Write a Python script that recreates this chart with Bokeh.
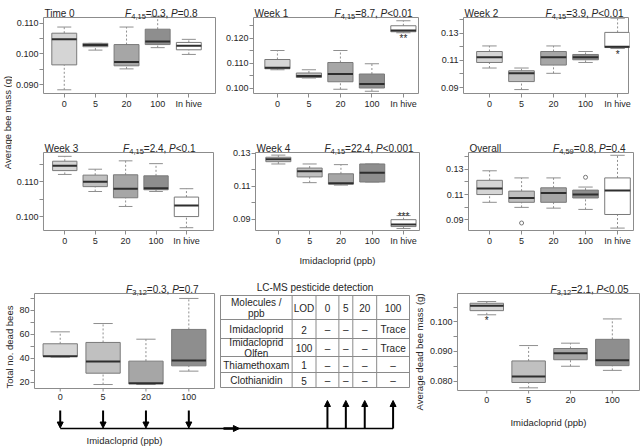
import math
from bokeh.plotting import figure
from bokeh.layouts import row, column
from bokeh.models import (ColumnDataSource, Range1d, FixedTicker, PrintfTickFormatter,
                          Label, Arrow, NormalHead, Title)
from bokeh.transform import dodge
from bokeh.core.properties import value
from bokeh.embed import file_html
from bokeh.resources import INLINE

# ---------------- data ----------------
mass_groups = ["0", "5", "20", "100", "In hive"]
dead_groups = ["0", "5", "20", "100"]

# box statistics per group: (lower whisker, Q1, median, Q3, upper whisker)
time0 = [(0.0883, 0.0964, 0.1047, 0.1067, 0.1087),
         (0.1012, 0.1023, 0.1029, 0.1034, 0.1034),
         (0.0951, 0.0961, 0.0973, 0.1030, 0.1087),
         (0.1020, 0.1030, 0.1040, 0.1080, 0.1122),
         (0.0998, 0.1013, 0.1026, 0.1037, 0.1047)]
week1 = [(0.1073, 0.1077, 0.1081, 0.1114, 0.1150),
         (0.1040, 0.1042, 0.1048, 0.1060, 0.1073),
         (0.0995, 0.1025, 0.1056, 0.1102, 0.1150),
         (0.0987, 0.1000, 0.1016, 0.1056, 0.1097),
         (0.1221, 0.1225, 0.1230, 0.1249, 0.1269)]
week2 = [(0.1044, 0.1085, 0.1124, 0.1166, 0.1207),
         (0.0885, 0.0944, 0.1005, 0.1024, 0.1044),
         (0.1005, 0.1066, 0.1124, 0.1166, 0.1207),
         (0.1085, 0.1105, 0.1124, 0.1144, 0.1166),
         (0.1188, 0.1195, 0.1202, 0.1307, 0.1412)]
week3 = [(0.1121, 0.1132, 0.1146, 0.1159, 0.1173),
         (0.1072, 0.1086, 0.1100, 0.1119, 0.1136),
         (0.1029, 0.1054, 0.1080, 0.1120, 0.1160),
         (0.1072, 0.1077, 0.1081, 0.1117, 0.1152),
         (0.0968, 0.1000, 0.1032, 0.1056, 0.1080)]
week4 = [(0.1236, 0.1250, 0.1265, 0.1277, 0.1290),
         (0.1122, 0.1157, 0.1192, 0.1211, 0.1236),
         (0.1107, 0.1113, 0.1118, 0.1176, 0.1232),
         (0.1126, 0.1126, 0.1182, 0.1236, 0.1236),
         (0.0842, 0.0854, 0.0867, 0.0896, 0.0921)]
overall = [(0.1039, 0.1100, 0.1148, 0.1212, 0.1287),
           (0.0999, 0.1039, 0.1073, 0.1127, 0.1231),
           (0.0993, 0.1039, 0.1113, 0.1153, 0.1231),
           (0.0983, 0.1073, 0.1100, 0.1135, 0.1159),
           (0.0836, 0.0943, 0.1132, 0.1231, 0.1409)]
overall_outliers = [(1, 0.0876), (3, 0.1236)]
dead_total = [(41.0, 41.6, 41.8, 52.1, 62.0),
              (18.3, 27.7, 37.4, 53.2, 68.9),
              (18.3, 18.9, 19.4, 37.7, 55.9),
              (29.4, 33.8, 38.2, 64.0, 89.7)]
dead_mass = [(0.1024, 0.1038, 0.1055, 0.1063, 0.1069),
             (0.0777, 0.0795, 0.0815, 0.0868, 0.0920),
             (0.0850, 0.0872, 0.0894, 0.0910, 0.0928),
             (0.0836, 0.0852, 0.0870, 0.0941, 0.1010)]

panel_titles = ["Time 0", "Week 1", "Week 2", "Week 3", "Week 4", "Overall"]
stat_df = ["4,15", "4,15", "4,15", "4,15", "4,15", "4,59", "3,12", "3,12"]
stat_f = ["0.3", "8.7", "3.9", "2.4", "22.4", "0.8", "0.3", "2.1"]
stat_p = ["=0.8", "<0.01", "<0.01", "<0.1", "<0.001", "=0.4", "=0.7", "<0.05"]

# significance marks: (group index, mark, side)
sig_week1 = [(4, "**", "below")]
sig_week2 = [(4, "*", "below")]
sig_week4 = [(4, "***", "above")]
sig_dead_mass = [(0, "*", "below")]

lcms_title = "LC-MS pesticide detection"
lcms_header = ["Molecules /\nppb", "LOD", "0", "5", "20", "100"]
lcms_molecules = ["Imidacloprid", "Imidacloprid\nOlfen", "Thiamethoxam", "Clothianidin"]
lcms_lod = ["2", "100", "1", "5"]
lcms_result = [["\u2013", "\u2013", "\u2013", "Trace"],
               ["\u2013", "\u2013", "\u2013", "Trace"],
               ["\u2013", "\u2013", "\u2013", "\u2013"],
               ["\u2013", "\u2013", "\u2013", "\u2013"]]

x_title = "Imidacloprid (ppb)"

# ---------------- style ----------------
FONT = "Liberation Sans"
TXT = "#262626"
FRAME = "#8c8c8c"
WHISK = "#8f8f8f"
BOXLINE = "#7a7a7a"
MED = "#2e2e2e"
BOX_FILL = ["#d5d5d5", "#c0c0c0", "#a6a6a6", "#8e8e8e", "#ffffff"]
BW = 0.8
CAP = 0.45

CW = {'0': .556, '1': .556, '2': .556, '3': .556, '4': .556, '5': .556, '6': .556,
      '7': .556, '8': .556, '9': .556, ',': .278, '.': .278, '=': .584, '<': .584,
      ' ': .278, 'F': .611, 'P': .667}


def text_w(s, size):
    return sum(CW.get(c, 0.556) for c in s) * size


def add_stat(p, xr, yr, df, f, pv, gap):
    segs = [("F", "italic", 10, 0.0), (df, "normal", 7.5, -2.5),
            ("=" + f + ", ", "normal", 10, 0.0), ("P", "italic", 10, 0.0),
            (pv, "normal", 10, 0.0)]
    total = sum(text_w(t, s) for t, _, s, _ in segs)
    off = -(gap + total)
    for t, st, s, dy in segs:
        p.add_layout(Label(x=xr[1], y=yr[1], x_offset=off, y_offset=4 + dy, text=t,
                           text_font=FONT, text_font_size=f"{s}px", text_font_style=st,
                           text_color=TXT, text_baseline="alphabetic", text_align="left"))
        off += text_w(t, s)


def draw_boxes(p, stats, groups, xr, yr, outliers=None, sig=None):
    p.quad(left=[xr[0]], right=[xr[1]], bottom=[yr[0]], top=[yr[1]], fill_color=None,
           line_color=FRAME, line_width=1)
    idx = list(range(len(groups)))
    src = ColumnDataSource(dict(
        x=idx,
        low=[s[0] for s in stats], q1=[s[1] for s in stats], med=[s[2] for s in stats],
        q3=[s[3] for s in stats], high=[s[4] for s in stats],
        fill=BOX_FILL[:len(groups)]))
    p.segment(x0="x", y0="q3", x1="x", y1="high", source=src, line_color=WHISK,
              line_dash="2 2", line_width=1)
    p.segment(x0="x", y0="low", x1="x", y1="q1", source=src, line_color=WHISK,
              line_dash="2 2", line_width=1)
    p.segment(x0=dodge("x", -CAP / 2), y0="high", x1=dodge("x", CAP / 2), y1="high",
              source=src, line_color=WHISK, line_width=1)
    p.segment(x0=dodge("x", -CAP / 2), y0="low", x1=dodge("x", CAP / 2), y1="low",
              source=src, line_color=WHISK, line_width=1)
    p.vbar(x="x", width=BW, bottom="q1", top="q3", source=src, fill_color="fill",
           line_color=BOXLINE, line_width=1)
    p.segment(x0=dodge("x", -BW / 2), y0="med", x1=dodge("x", BW / 2), y1="med",
              source=src, line_color=MED, line_width=2)
    if outliers:
        p.scatter(x=[o[0] for o in outliers], y=[o[1] for o in outliers], marker="circle",
                  size=4, fill_color=None, line_color="#777777", line_width=1)
    if sig:
        for gi, mark, side in sig:
            if side == "below":
                p.text(x=[gi], y=[stats[gi][0]], text=[mark], text_font=value(FONT),
                       text_font_size="10px", text_align="center", text_baseline="top",
                       text_color=TXT, y_offset=0)
            else:
                p.text(x=[gi], y=[stats[gi][4]], text=[mark], text_font=value(FONT),
                       text_font_size="10px", text_align="center",
                       text_baseline="alphabetic", text_color=TXT, y_offset=1)
    return idx


def style_axes(p):
    for ax in p.axis:
        ax.axis_line_color = None
        ax.major_tick_line_color = FRAME
        ax.major_tick_out = 3
        ax.major_tick_in = 1
        ax.minor_tick_line_color = FRAME
        ax.minor_tick_out = 3
        ax.minor_tick_in = 1
        ax.major_label_text_font = FONT
        ax.major_label_text_font_size = "9px"
        ax.major_label_text_color = TXT
        ax.major_label_standoff = 1
        ax.axis_label_text_font = FONT
        ax.axis_label_text_font_size = "9.5px"
        ax.axis_label_text_font_style = "normal"
        ax.axis_label_text_color = TXT


def box_panel(stats, groups, w, h, box_l, box_r, box_t, box_b, xr, yr, major, minor, fmt,
              title=None, stat=None, gap=6, outliers=None, sig=None,
              xlabel=None, xlabel_standoff=6):
    """box_l/box_r/box_t/box_b: pixel distance from the figure edges to the drawn box."""
    box_w = w - box_l - box_r
    box_h = h - box_t - box_b
    sx = (xr[1] - xr[0]) / box_w
    sy = (yr[1] - yr[0]) / box_h
    bt = 2
    fx = (xr[0] - sx, xr[1] + sx)
    fy = (yr[0] - sy, yr[1] + (box_t - bt) * sy)
    p = figure(width=w, height=h, x_range=Range1d(*fx), y_range=Range1d(*fy),
               output_backend="svg", toolbar_location=None, title=None,
               min_border_left=box_l - 1, min_border_right=box_r - 1, min_border_top=bt,
               min_border_bottom=box_b - 1)
    p.grid.visible = False
    p.outline_line_color = None
    idx = draw_boxes(p, stats, groups, xr, yr, outliers, sig)
    p.xaxis.ticker = FixedTicker(ticks=idx)
    p.xaxis.major_label_overrides = {i: g for i, g in enumerate(groups)}
    p.yaxis.ticker = FixedTicker(ticks=major, minor_ticks=minor)
    p.yaxis.formatter = PrintfTickFormatter(format=fmt)
    style_axes(p)
    if xlabel:
        p.xaxis.axis_label = xlabel
        p.xaxis.axis_label_standoff = xlabel_standoff
    if title:
        p.add_layout(Label(x=xr[0], y=yr[1], x_offset=1, y_offset=4, text=title,
                           text_font=FONT, text_font_size="10px", text_color=TXT,
                           text_baseline="alphabetic"))
    if stat:
        add_stat(p, xr, yr, stat[0], stat[1], stat[2], gap)
    return p


ROW1_H, ROW2_H = 134, 136
p1 = box_panel(time0, mass_groups, 205, ROW1_H, 29, 2, 17, 41, (-0.667, 4.857), (0.0871, 0.1118),
               [0.090, 0.100, 0.110], [0.095, 0.105], "%.3f", panel_titles[0],
               (stat_df[0], stat_f[0], stat_p[0]), gap=18)
p2 = box_panel(week1, mass_groups, 211, ROW1_H, 36, 10, 17, 41, (-0.76, 4.48), (0.0978, 0.1282),
               [0.100, 0.110, 0.120], [0.105, 0.115, 0.125], "%.3f", panel_titles[1],
               (stat_df[1], stat_f[1], stat_p[1]), gap=6, sig=sig_week1)
p3 = box_panel(week2, mass_groups, 212, ROW1_H, 35, 12, 17, 41, (-0.81, 4.34), (0.0856, 0.1417),
               [0.09, 0.11, 0.13], [0.10, 0.12, 0.14], "%.2f", panel_titles[2],
               (stat_df[2], stat_f[2], stat_p[2]), gap=5, sig=sig_week2)
p4 = box_panel(week3, mass_groups, 205, ROW2_H, 28, 4, 18, 40, (-0.70, 4.89), (0.0960, 0.1184),
               [0.100, 0.110], [0.105, 0.115], "%.3f", panel_titles[3],
               (stat_df[3], stat_f[3], stat_p[3]), gap=18)
p5 = box_panel(week4, mass_groups, 211, ROW2_H, 38, 9, 18, 40, (-0.73, 4.51), (0.0830, 0.1306),
               [0.09, 0.11, 0.13], [0.10, 0.12], "%.2f", panel_titles[4],
               (stat_df[4], stat_f[4], stat_p[4]), gap=6, sig=sig_week4,
               xlabel=x_title, xlabel_standoff=6)
p6 = box_panel(overall, mass_groups, 212, ROW2_H, 40, 7, 18, 40, (-0.66, 4.5), (0.0817, 0.1431),
               [0.09, 0.11, 0.13], [0.10, 0.12, 0.14], "%.2f", panel_titles[5],
               (stat_df[5], stat_f[5], stat_p[5]), gap=8, outliers=overall_outliers)

# ---------------- shared y label (frame aligned with the panel rows) ----------------
LAB_H = ROW1_H + ROW2_H
lab = figure(width=12, height=LAB_H, x_range=Range1d(0, 12), y_range=Range1d(LAB_H - 40, 2),
             output_backend="svg", toolbar_location=None, title=None,
             x_axis_location=None, y_axis_location=None, min_border=0,
             min_border_top=2, min_border_bottom=40)
lab.grid.visible = False
lab.outline_line_color = None
lab.text(x=[7], y=[122], text=["Average bee mass (g)"], angle=math.pi / 2,
         text_align="center", text_baseline="middle", text_font=value(FONT),
         text_font_size="9.5px", text_color=TXT)

# ---------------- bottom section: shared frame geometry ----------------
BOT_H = 176
BT = 2  # top border of every bottom figure; frames reach the bottom of the page


def bottom_figure(w, bl, box_l, box_r, box_t, box_b, xr, yr):
    sx = (xr[1] - xr[0]) / (box_r - box_l)
    sy = (yr[1] - yr[0]) / (box_b - box_t)
    fx = (xr[0] - (box_l - bl) * sx, xr[1] + (w - box_r) * sx)
    fy = (yr[0] - (BOT_H - box_b) * sy, yr[1] + (box_t - BT) * sy)
    p = figure(width=w, height=BOT_H, x_range=Range1d(*fx), y_range=Range1d(*fy),
               output_backend="svg", toolbar_location=None, title=None,
               x_axis_location=None, min_border_left=bl, min_border_right=0,
               min_border_top=BT, min_border_bottom=0)
    # pixel ranges (figure-local coordinates, y downwards)
    p.extra_x_ranges = {"px": Range1d(bl, w)}
    p.extra_y_ranges = {"px": Range1d(BOT_H, BT)}
    p.grid.visible = False
    p.outline_line_color = None
    return p


def manual_xaxis(p, idx, groups, box_b, label_top):
    p.segment(x0=idx, y0=[box_b] * len(idx), x1=idx, y1=[box_b + 3] * len(idx),
              y_range_name="px", line_color=FRAME, line_width=1)
    p.text(x=idx, y=[label_top] * len(idx), text=groups, y_range_name="px",
           text_align="center", text_baseline="top", text_font=value(FONT),
           text_font_size="9px", text_color=TXT)


def left_title(p, text, offset):
    p.add_layout(Title(text=text, align="left", offset=offset, text_font=FONT,
                       text_font_size="9.5px", text_font_style="normal", text_color=TXT,
                       standoff=3), "left")


# ---- dead bees + LC-MS table + exposure arrows (one figure) ----
BL_W, BL_BL = 410, 31
P7_BOX = (32, 213, 23, 118)  # left, right, top, bottom (figure pixels)
P7_XR, P7_YR = (-0.6, 3.6), (15.0, 93.8)
p7 = bottom_figure(BL_W, BL_BL, *P7_BOX, P7_XR, P7_YR)
idx7 = draw_boxes(p7, dead_total, dead_groups, P7_XR, P7_YR)
p7.yaxis.ticker = FixedTicker(ticks=[20, 40, 60, 80], minor_ticks=[30, 50, 70, 90])
p7.yaxis.formatter = PrintfTickFormatter(format="%d")
style_axes(p7)
left_title(p7, "Total no. dead bees", 58)
manual_xaxis(p7, idx7, dead_groups, P7_BOX[3], 123)
add_stat(p7, P7_XR, P7_YR, stat_df[6], stat_f[6], stat_p[6], 16)

# LC-MS table (figure pixel coordinates)
col_w = [72, 24, 23, 14, 24, 33]
row_h = [24, 19, 18, 16, 15]
tx0, ty0 = 219, 25
xe = [tx0]
for cw in col_w:
    xe.append(xe[-1] + cw)
ye = [ty0]
for rh in row_h:
    ye.append(ye[-1] + rh)
p7.segment(x0=[xe[0]] * len(ye), y0=ye, x1=[xe[-1]] * len(ye), y1=ye,
           x_range_name="px", y_range_name="px", line_color="#8a8a8a", line_width=1)
p7.segment(x0=xe, y0=[ye[0]] * len(xe), x1=xe, y1=[ye[-1]] * len(xe),
           x_range_name="px", y_range_name="px", line_color="#8a8a8a", line_width=1)
cells = [lcms_header] + [[m, l] + r for m, l, r in zip(lcms_molecules, lcms_lod, lcms_result)]
cx, cy, ct = [], [], []
for ri, cells_row in enumerate(cells):
    for ci, t in enumerate(cells_row):
        cx.append((xe[ci] + xe[ci + 1]) / 2)
        cy.append((ye[ri] + ye[ri + 1]) / 2 + 0.5)
        ct.append(t)
p7.text(x=cx, y=cy, text=ct, x_range_name="px", y_range_name="px", text_align="center",
        text_baseline="middle", text_font=value(FONT), text_font_size="10px",
        text_color=TXT, text_line_height=0.95)
p7.text(x=[(xe[0] + xe[-1]) / 2], y=[ty0 - 8], text=[lcms_title], x_range_name="px",
        y_range_name="px", text_align="center", text_baseline="middle",
        text_font=value(FONT), text_font_size="10px", text_color=TXT)

# exposure arrows
p7_bw = P7_BOX[1] - P7_BOX[0]
down_x = [P7_BOX[0] + (i - P7_XR[0]) / (P7_XR[1] - P7_XR[0]) * p7_bw for i in idx7]
up_x = [(xe[ci] + xe[ci + 1]) / 2 for ci in range(2, 6)]
LINE_Y = 158
head = dict(size=6, fill_color="black", line_color="black")
p7.segment(x0=[down_x[0]], y0=[LINE_Y], x1=[up_x[-1]], y1=[LINE_Y], x_range_name="px",
           y_range_name="px", line_color="black", line_width=1.3)
for x in down_x:
    p7.add_layout(Arrow(x_start=x, y_start=140, x_end=x, y_end=LINE_Y - 0.5,
                        x_range_name="px", y_range_name="px",
                        line_width=2, line_color="black", end=NormalHead(**head)))
for x in up_x:
    p7.add_layout(Arrow(x_start=x, y_start=LINE_Y, x_end=x, y_end=130,
                        x_range_name="px", y_range_name="px",
                        line_width=2, line_color="black", end=NormalHead(**head)))
p7.add_layout(Arrow(x_start=222, y_start=LINE_Y, x_end=238, y_end=LINE_Y,
                    x_range_name="px", y_range_name="px",
                    line_width=2.5, line_color="black", end=NormalHead(**head)))
p7.text(x=[P7_BOX[0] + p7_bw / 2], y=[170], text=[x_title], x_range_name="px",
        y_range_name="px", text_align="center", text_baseline="middle",
        text_font=value(FONT), text_font_size="9.5px", text_color=TXT)

# ---- average dead bee mass ----
P9_W, P9_BL = 230, 41
P9_BOX = (42, 229, 23, 120)
P9_XR, P9_YR = (-0.70, 3.65), (0.0768, 0.1096)
p9 = bottom_figure(P9_W, P9_BL, *P9_BOX, P9_XR, P9_YR)
idx9 = draw_boxes(p9, dead_mass, dead_groups, P9_XR, P9_YR, sig=sig_dead_mass)
p9.yaxis.ticker = FixedTicker(ticks=[0.080, 0.090, 0.100], minor_ticks=[0.085, 0.095, 0.105])
p9.yaxis.formatter = PrintfTickFormatter(format="%.3f")
style_axes(p9)
left_title(p9, "Average dead bee mass (g)", 36)
manual_xaxis(p9, idx9, dead_groups, P9_BOX[3], 126)
p9.text(x=[(P9_XR[0] + P9_XR[1]) / 2], y=[152], text=[x_title], y_range_name="px",
        text_align="center", text_baseline="middle", text_font=value(FONT),
        text_font_size="9.5px", text_color=TXT)
add_stat(p9, P9_XR, P9_YR, stat_df[7], stat_f[7], stat_p[7], 11)

top = row(lab, column(row(p1, p2, p3), row(p4, p5, p6)))
bottom = row(p7, p9)
layout = column(top, bottom)

open("out.html", "w").write(file_html(layout, INLINE))
